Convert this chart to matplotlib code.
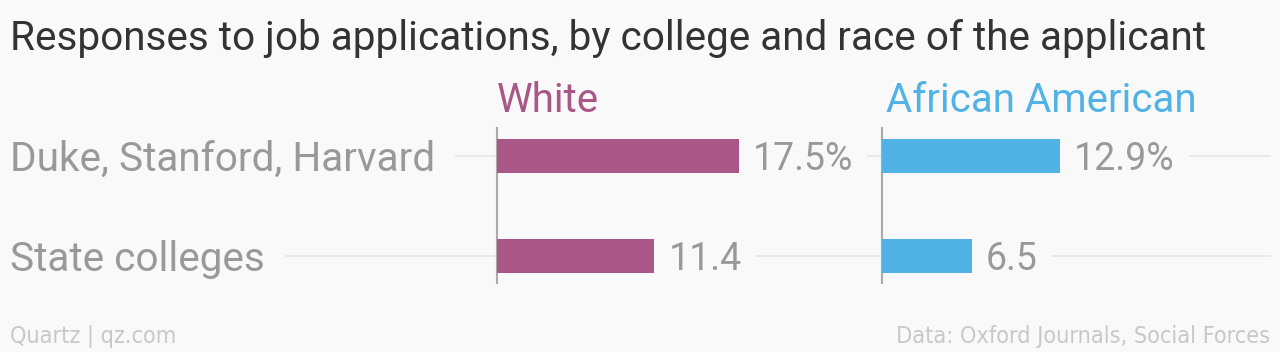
import matplotlib.pyplot as plt
import matplotlib.transforms as mtransforms
from matplotlib.lines import Line2D

# data
colleges = ["Duke, Stanford, Harvard", "State colleges"]
white = [17.5, 11.4]
african_american = [12.9, 6.5]
white_labels = ["17.5%", "11.4"]
aa_labels = ["12.9%", "6.5"]
groups = ["White", "African American"]

BG = "#f9f9f9"
GRAY = "#999999"
GRID = "#e6e6e6"
colors = ["#a85786", "#51b2e5"]

W, H = 1280, 352
fig = plt.figure(figsize=(W / 100, H / 100), dpi=100, facecolor=BG)

PX_PER_UNIT = 13.8
ax_top, ax_bot = 128, 283


def make_ax(x0, width_px):
    ax = fig.add_axes([x0 / W, 1 - ax_bot / H, width_px / W, (ax_bot - ax_top) / H])
    ax.set_xlim(0, width_px / PX_PER_UNIT)
    ax.set_ylim(1.27, -0.28)
    ax.patch.set_visible(False)
    for s in ["top", "right", "bottom"]:
        ax.spines[s].set_visible(False)
    ax.spines["left"].set_color("#aaaaaa")
    ax.spines["left"].set_linewidth(1.5)
    ax.set_xticks([])
    ax.set_yticks([])
    return ax


ax1 = make_ax(497, 370)
ax2 = make_ax(882, 380)

val_font = dict(family="Roboto", fontsize=27, color=GRAY)
box = dict(boxstyle="square,pad=0.37", facecolor=BG, edgecolor="none")

for ax, vals, labs, col in [(ax1, white, white_labels, colors[0]),
                            (ax2, african_american, aa_labels, colors[1])]:
    ypos = list(range(len(vals)))
    ax.barh(ypos, vals, height=0.34, color=col, zorder=3)
    for y, v, l in zip(ypos, vals, labs):
        ax.text(v + 14 / PX_PER_UNIT, y + 0.145, l, va="baseline", ha="left",
                bbox=box, zorder=4, **val_font)

# row gridlines and labels
tr = mtransforms.blended_transform_factory(fig.transFigure, ax1.transData)
for i, c in enumerate(colleges):
    fig.add_artist(Line2D([0, 1270 / W], [i, i], transform=tr, color=GRID,
                          lw=1.2, zorder=-1))
    fig.text(10 / W, i + 0.15, c, transform=tr, va="baseline", ha="left",
             bbox=dict(boxstyle="square,pad=0.5", facecolor=BG, edgecolor="none"),
             family="Roboto", fontsize=29.2, color=GRAY)

# group headers
fig.text(497 / W, 1 - 112 / H, groups[0], color=colors[0], family="Roboto",
         fontsize=29, va="baseline", ha="left")
fig.text(886 / W, 1 - 112 / H, groups[1], color=colors[1], family="Roboto",
         fontsize=29, va="baseline", ha="left")

fig.text(10 / W, 1 - 50 / H,
         "Responses to job applications, by college and race of the applicant",
         color="#333333", family="Roboto", fontsize=29.2, va="baseline", ha="left")

foot = dict(family="DejaVu Sans", fontstretch="condensed", fontsize=16.8,
            color="#c8c8c8", va="baseline")
fig.text(10 / W, 1 - 343 / H, "Quartz | qz.com", ha="left", **foot)
fig.text(1270 / W, 1 - 343 / H, "Data: Oxford Journals, Social Forces", ha="right", **foot)

fig.savefig("out.png", dpi=100, facecolor=BG)
